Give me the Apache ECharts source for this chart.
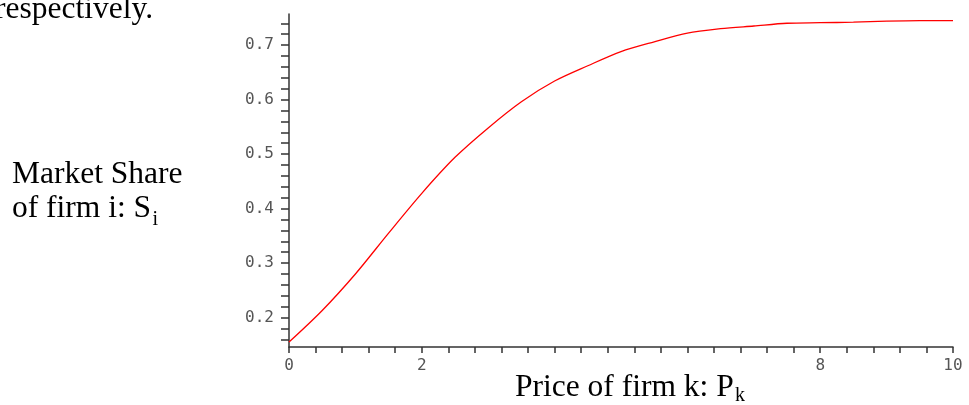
<!DOCTYPE html>
<html>
<head>
<meta charset="utf-8">
<script src="https://cdn.jsdelivr.net/npm/echarts@6/dist/echarts.min.js"></script>
<style>
  html, body { margin: 0; padding: 0; background: #ffffff; }
  #chart { width: 969px; height: 405px; }
</style>
</head>
<body>
<div id="chart"></div>
<script>
// Price of firm k (x) and market share of firm i (y)
var priceK = [0, 0.5, 1, 1.5, 2, 2.5, 3, 3.5, 4, 4.5, 5, 5.5, 6, 6.5, 7, 7.5, 8, 8.5, 9, 9.5, 10];
var shareI = [0.155, 0.213, 0.280, 0.355, 0.428, 0.494, 0.548, 0.596, 0.634, 0.662, 0.688, 0.706, 0.722, 0.730, 0.735, 0.740, 0.741, 0.742, 0.744, 0.745, 0.745];

// tick positions and labels
var xTickValues = [0, 0.4, 0.8, 1.2, 1.6, 2, 2.4, 2.8, 3.2, 3.6, 4, 4.4, 4.8, 5.2, 5.6, 6, 6.4, 6.8, 7.2, 7.6, 8, 8.4, 8.8, 9.2, 9.6, 10];
var xLabelValues = [0, 2, 8, 10];
var yTickValues = [0.16, 0.18, 0.2, 0.22, 0.24, 0.26, 0.28, 0.3, 0.32, 0.34, 0.36, 0.38, 0.4, 0.42, 0.44, 0.46, 0.48, 0.5, 0.52, 0.54, 0.56, 0.58, 0.6, 0.62, 0.64, 0.66, 0.68, 0.7, 0.72, 0.74];
var yLabelValues = [0.2, 0.3, 0.4, 0.5, 0.6, 0.7];

var points = priceK.map(function (x, i) { return [x, shareI[i]]; });

var serif = '"Liberation Serif", "Times New Roman", serif';
var tickFont = '"DejaVu Sans Mono", monospace';
var chart = echarts.init(document.getElementById('chart'), null, { renderer: 'canvas' });

chart.setOption({
  animation: false,
  backgroundColor: '#ffffff',
  grid: { left: 289, right: 16, top: 14, bottom: 58, containLabel: false },
  xAxis: {
    type: 'value',
    min: 0,
    max: 10,
    axisLine: { show: true, onZero: false, lineStyle: { color: '#333333', width: 1.5 } },
    axisTick: { show: true, inside: false, length: 6, customValues: xTickValues, lineStyle: { color: '#333333', width: 1.5 } },
    axisLabel: {
      show: true, customValues: xLabelValues, margin: 11,
      color: '#555555', fontFamily: tickFont, fontSize: 16,
      formatter: function (v) { return String(v); }
    },
    splitLine: { show: false }
  },
  yAxis: {
    type: 'value',
    min: 0.146,
    max: 0.757,
    axisLine: { show: true, onZero: false, lineStyle: { color: '#333333', width: 1.5 } },
    axisTick: { show: true, inside: false, length: 8, customValues: yTickValues, lineStyle: { color: '#333333', width: 1.5 } },
    axisLabel: {
      show: true, customValues: yLabelValues, margin: 15,
      color: '#555555', fontFamily: tickFont, fontSize: 16,
      formatter: function (v) { return v.toFixed(1); }
    },
    splitLine: { show: false }
  },
  series: [{
    type: 'line',
    data: points,
    showSymbol: false,
    symbol: 'none',
    smooth: 0.3,
    lineStyle: { color: '#ff0000', width: 1.3 },
    z: 3
  }],
  graphic: [
    { type: 'text', x: -5, y: 9.5, style: { text: 'respectively.', font: '31.5px ' + serif, fill: '#000', verticalAlign: 'middle', align: 'left' } },
    { type: 'text', x: 12, y: 175, style: { text: 'Market Share', font: '31.5px ' + serif, fill: '#000', verticalAlign: 'middle', align: 'left' } },
    { type: 'text', x: 12, y: 208.5, style: { text: 'of firm i: S', font: '31.5px ' + serif, fill: '#000', verticalAlign: 'middle', align: 'left' } },
    { type: 'text', x: 152.5, y: 219.5, style: { text: 'i', font: '20px ' + serif, fill: '#000', verticalAlign: 'middle', align: 'left' } },
    { type: 'text', x: 515, y: 388, style: { text: 'Price of firm k: P', font: '31.5px ' + serif, fill: '#000', verticalAlign: 'middle', align: 'left' } },
    { type: 'text', x: 735, y: 396, style: { text: 'k', font: '20px ' + serif, fill: '#000', verticalAlign: 'middle', align: 'left' } }
  ]
});
</script>
</body>
</html>
